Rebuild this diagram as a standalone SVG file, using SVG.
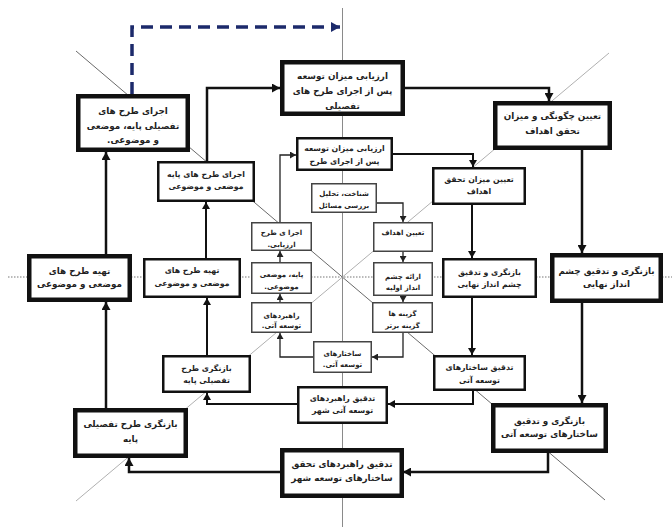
<svg xmlns="http://www.w3.org/2000/svg" width="672" height="527" viewBox="0 0 672 527">
<style>
text{font-family:"DejaVu Sans","Noto Sans",sans-serif;font-weight:bold;fill:#222;text-anchor:middle}
.t1{font-size:8.8px}.t2{font-size:7.8px}.t3{font-size:7px}
.b1{fill:#fff;stroke:#111;stroke-width:4.5}
.b2{fill:#fff;stroke:#111;stroke-width:2.5}
.b3{fill:#fff;stroke:#444;stroke-width:1.5}
.c1{fill:none;stroke:#111;stroke-width:2.5;marker-end:url(#a1)}
.c2{fill:none;stroke:#111;stroke-width:2;marker-end:url(#a2)}
.c3{fill:none;stroke:#222;stroke-width:1.3;marker-end:url(#a3)}
</style>
<defs>
<marker id="a1" markerUnits="userSpaceOnUse" markerWidth="9" markerHeight="9" refX="8" refY="4.5" orient="auto"><path d="M0,0 L8,4.5 L0,9 z" fill="#111"/></marker>
<marker id="a2" markerUnits="userSpaceOnUse" markerWidth="8" markerHeight="8" refX="7" refY="4" orient="auto"><path d="M0,0 L7,4 L0,8 z" fill="#111"/></marker>
<marker id="a3" markerUnits="userSpaceOnUse" markerWidth="7" markerHeight="7" refX="6" refY="3.5" orient="auto"><path d="M0,0 L6,3.5 L0,7 z" fill="#222"/></marker>
<marker id="ad" markerUnits="userSpaceOnUse" markerWidth="10" markerHeight="10" refX="9" refY="5" orient="auto"><path d="M0,0 L9,5 L0,10 z" fill="#1c2a6b"/></marker>
</defs>
<rect width="672" height="527" fill="#fff"/>
<g id="guides" fill="none">
<line x1="342.5" y1="8" x2="342.5" y2="527" stroke="#8a8a8a" stroke-width="1"/>
<line x1="8" y1="277" x2="672" y2="277" stroke="#777" stroke-width="1.2" stroke-dasharray="1.5,1.5"/>
<line x1="76" y1="51" x2="605" y2="500" stroke="#6a6a6a" stroke-width="1"/>
<line x1="609" y1="53" x2="76" y2="501" stroke="#b0b0b0" stroke-width="1"/>
</g>
<g id="connectors">
<path class="c1" d="M106,254 V152"/>
<path class="c1" d="M106,408 V302"/>
<path class="c1" d="M207,161 V88 H280"/>
<path class="c1" d="M405,88 H549 V101"/>
<path class="c1" d="M582,150 V253"/>
<path class="c1" d="M582,303 V403"/>
<path class="c1" d="M548,453 V472 H403"/>
<path class="c1" d="M280,472 H129 V458"/>
<path d="M132,94 V27 H340" fill="none" stroke="#1c2a6b" stroke-width="3.5" stroke-dasharray="12,7" marker-end="url(#ad)"/>
<path class="c2" d="M206,258 V202"/>
<path class="c2" d="M207,355 V298"/>
<path class="c2" d="M297,404 H207 V393"/>
<path class="c2" d="M473,391 V404 H388"/>
<path class="c2" d="M472,298 V355"/>
<path class="c2" d="M472,205 V258"/>
<path class="c2" d="M393,154 H473 V167"/>
<path class="c3" d="M377,203 H403 V222"/>
<path class="c3" d="M403,252 V262"/>
<path class="c3" d="M403,296 V302"/>
<path class="c3" d="M403,333 V357 H372"/>
<path class="c3" d="M313,357 H280 V333"/>
<path class="c3" d="M280,302 V294"/>
<path class="c3" d="M280,262 V251"/>
<path class="c3" d="M280,222 V155 H296"/>
</g>
<g id="n-A"><rect class="b1" x="78.25" y="96.25" width="109.5" height="53.5"/><text class="t1" x="133" y="113.5">اجرای طرح های</text><text class="t1" x="133" y="128.5">تفصیلی پایه، موضعی</text><text class="t1" x="133" y="143">و موضوعی.&#x200F;</text></g>
<g id="n-B"><rect class="b1" x="282.25" y="62.25" width="120.5" height="51.5"/><text class="t1" x="342.5" y="78.5">ارزیابی میزان توسعه</text><text class="t1" x="342.5" y="93.5">پس از اجرای طرح های</text><text class="t1" x="342.5" y="108.5">تفصیلی</text></g>
<g id="n-D"><rect class="b1" x="495.25" y="103.25" width="114.5" height="44.5"/><text class="t1" x="552.5" y="118.5">تعیین چگونگی و میزان</text><text class="t1" x="552.5" y="133.5">تحقق اهداف</text></g>
<g id="n-R"><rect class="b1" x="552.25" y="255.25" width="108.5" height="45.5"/><text class="t1" x="606.5" y="273.5">بازنگری و تدقیق چشم</text><text class="t1" x="606.5" y="287">انداز نهایی</text></g>
<g id="n-BR"><rect class="b1" x="493.25" y="405.25" width="112.5" height="45.5"/><text class="t1" x="549.5" y="423.5">بازنگری و تدقیق</text><text class="t1" x="549.5" y="437">ساختارهای توسعه آتی</text></g>
<g id="n-BOT"><rect class="b1" x="282.25" y="450.25" width="119.5" height="45.5"/><text class="t1" x="342" y="466.5">تدقیق راهبردهای تحقق</text><text class="t1" x="342" y="480.5">ساختارهای توسعه شهر</text></g>
<g id="n-BL"><rect class="b1" x="75.25" y="410.25" width="110.5" height="45.5"/><text class="t1" x="130.5" y="426.5">بازنگری طرح تفصیلی</text><text class="t1" x="130.5" y="441.5">پایه</text></g>
<g id="n-E"><rect class="b1" x="29.25" y="256.25" width="100.5" height="43.5"/><text class="t1" x="79.5" y="273.5">تهیه طرح های</text><text class="t1" x="79.5" y="287">موضعی و موضوعی</text></g>
<g id="n-C"><rect class="b2" x="158.25" y="162.25" width="95.5" height="38.5"/><text class="t2" x="206" y="177">اجرای طرح های پایه</text><text class="t2" x="206" y="188.5">موضعی و موضوعی</text></g>
<g id="n-G"><rect class="b2" x="297.25" y="138.25" width="94.5" height="31.5"/><text class="t2" x="344.5" y="151">ارزیابی میزان توسعه</text><text class="t2" x="344.5" y="164">پس از اجرای طرح</text></g>
<g id="n-H"><rect class="b2" x="433.25" y="168.25" width="91.5" height="35.5"/><text class="t2" x="479" y="182">تعیین میزان  تحقق</text><text class="t2" x="479" y="193.5">اهداف</text></g>
<g id="n-I"><rect class="b2" x="443.25" y="259.25" width="92.5" height="37.5"/><text class="t2" x="489.5" y="275">بازنگری و تدقیق</text><text class="t2" x="489.5" y="286.5">چشم انداز نهایی</text></g>
<g id="n-J"><rect class="b2" x="434.25" y="356.25" width="90.5" height="33.5"/><text class="t2" x="479.5" y="370">تدقیق ساختارهای</text><text class="t2" x="479.5" y="383">توسعه آتی</text></g>
<g id="n-K"><rect class="b2" x="298.25" y="387.25" width="88.5" height="35.5"/><text class="t2" x="342.5" y="401">تدقیق راهبردهای</text><text class="t2" x="342.5" y="413">توسعه آتی شهر</text></g>
<g id="n-L"><rect class="b2" x="163.25" y="356.25" width="86.5" height="35.5"/><text class="t2" x="206.5" y="371">بازنگری طرح</text><text class="t2" x="206.5" y="383">تفصیلی پایه</text></g>
<g id="n-F"><rect class="b2" x="144.25" y="259.25" width="95.5" height="37.5"/><text class="t2" x="192" y="273">تهیه طرح های</text><text class="t2" x="192" y="286">موضعی و موضوعی</text></g>
<g id="n-S"><rect class="b3" x="311.75" y="183.75" width="64.5" height="28.5"/><text class="t3" x="344" y="196">شناخت، تحلیل</text><text class="t3" x="344" y="207.5">بررسی مسائل</text></g>
<g id="n-T"><rect class="b3" x="373.75" y="222.75" width="58.5" height="28.5"/><text class="t3" x="403" y="235">تعیین اهداف</text></g>
<g id="n-U"><rect class="b3" x="373.75" y="262.75" width="58.5" height="32.5"/><text class="t3" x="403" y="279">ارائه چشم</text><text class="t3" x="403" y="290">انداز اولیه</text></g>
<g id="n-V"><rect class="b3" x="372.75" y="302.75" width="59.5" height="29.5"/><text class="t3" x="402.5" y="316">گزینه ها</text><text class="t3" x="402.5" y="327.5">گزینه برتر</text></g>
<g id="n-W"><rect class="b3" x="313.75" y="341.75" width="57.5" height="30.5"/><text class="t3" x="342.5" y="356">ساختارهای</text><text class="t3" x="342.5" y="366.5">توسعه آتی.&#x200F;</text></g>
<g id="n-X"><rect class="b3" x="251.75" y="302.75" width="59.5" height="29.5"/><text class="t3" x="281.5" y="318">راهبردهای</text><text class="t3" x="281.5" y="328">توسعه آتی.&#x200F;</text></g>
<g id="n-Y"><rect class="b3" x="251.75" y="262.75" width="59.5" height="30.5"/><text class="t3" x="281.5" y="277">پایه، موضعی</text><text class="t3" x="281.5" y="289">موضوعی.&#x200F;</text></g>
<g id="n-Z"><rect class="b3" x="251.75" y="222.75" width="59.5" height="27.5"/><text class="t3" x="281.5" y="235">اجرا ی طرح</text><text class="t3" x="281.5" y="247">ارزیابی.&#x200F;</text></g>
</svg>
